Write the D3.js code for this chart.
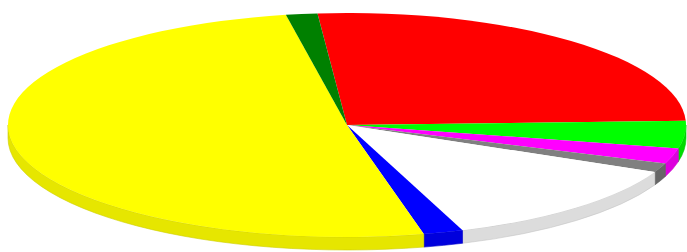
<!DOCTYPE html>
<html>
<head>
<meta charset="utf-8">
<script src="https://cdn.jsdelivr.net/npm/d3@7"></script>
<style>
  html, body { margin: 0; padding: 0; background: #fff; }
  #chart { width: 687px; height: 252px; }
</style>
</head>
<body>
<div id="chart"></div>
<script>
// 3d pie, slices go clockwise starting just left of 12 o'clock
const labels = ["Red", "Lime", "Magenta", "Gray", "White", "Blue", "Yellow", "Green"];
const values = [25.8, 4.0, 2.2, 1.3, 12.6, 1.9, 50.8, 1.5];
const topColors = ["#ff0000", "#00ff00", "#ff00ff", "#808080", "#ffffff", "#0000ff", "#ffff00", "#008000"];
const sideColors = ["#d00000", "#00dd00", "#dd00dd", "#666666", "#dcdcdc", "#0000dd", "#e6e600", "#006600"];

const width = 687, height = 252;
const cx = 347, cy = 125, rx = 339, ry = 112, depth = 13;
const k = ry / rx;          // vertical squash of the disc
const dy = depth / k;       // depth in un-squashed units

const svg = d3.select("#chart")
    .append("svg")
    .attr("width", width)
    .attr("height", height);

const topColor = d3.scaleOrdinal().domain(labels).range(topColors);
const sideColor = d3.scaleOrdinal().domain(labels).range(sideColors);

const pie = d3.pie()
    .sort(null)
    .value(d => d.value)
    .startAngle(-5 * Math.PI / 180)
    .endAngle(2 * Math.PI - 5 * Math.PI / 180);

const data = labels.map((l, i) => ({ label: l, value: values[i] }));
const slices = pie(data);

const g = svg.append("g")
    .attr("transform", `translate(${cx},${cy}) scale(1,${k})`);

// outer wall, only the front half (pie angles pi/2 .. 3pi/2) shows
function sidePath(d) {
    const s = Math.max(d.startAngle, Math.PI / 2);
    const e = Math.min(d.endAngle, 3 * Math.PI / 2);
    if (e <= s) return null;
    const p = d3.path();
    p.arc(0, 0, rx, s - Math.PI / 2, e - Math.PI / 2);
    p.lineTo(rx * Math.sin(e), -rx * Math.cos(e) + dy);
    p.arc(0, dy, rx, e - Math.PI / 2, s - Math.PI / 2, true);
    p.closePath();
    return p.toString();
}

g.selectAll("path.side")
    .data(slices.filter(d => sidePath(d)))
    .enter()
    .append("path")
    .attr("class", "side")
    .attr("d", sidePath)
    .attr("fill", d => sideColor(d.data.label))
    .attr("stroke", d => d3.color(sideColor(d.data.label)).darker(0.3))
    .attr("stroke-width", 0.6)
    .attr("vector-effect", "non-scaling-stroke");

const arc = d3.arc().innerRadius(0).outerRadius(rx);

g.selectAll("path.top")
    .data(slices)
    .enter()
    .append("path")
    .attr("class", "top")
    .attr("d", arc)
    .attr("fill", d => topColor(d.data.label));
</script>
</body>
</html>
